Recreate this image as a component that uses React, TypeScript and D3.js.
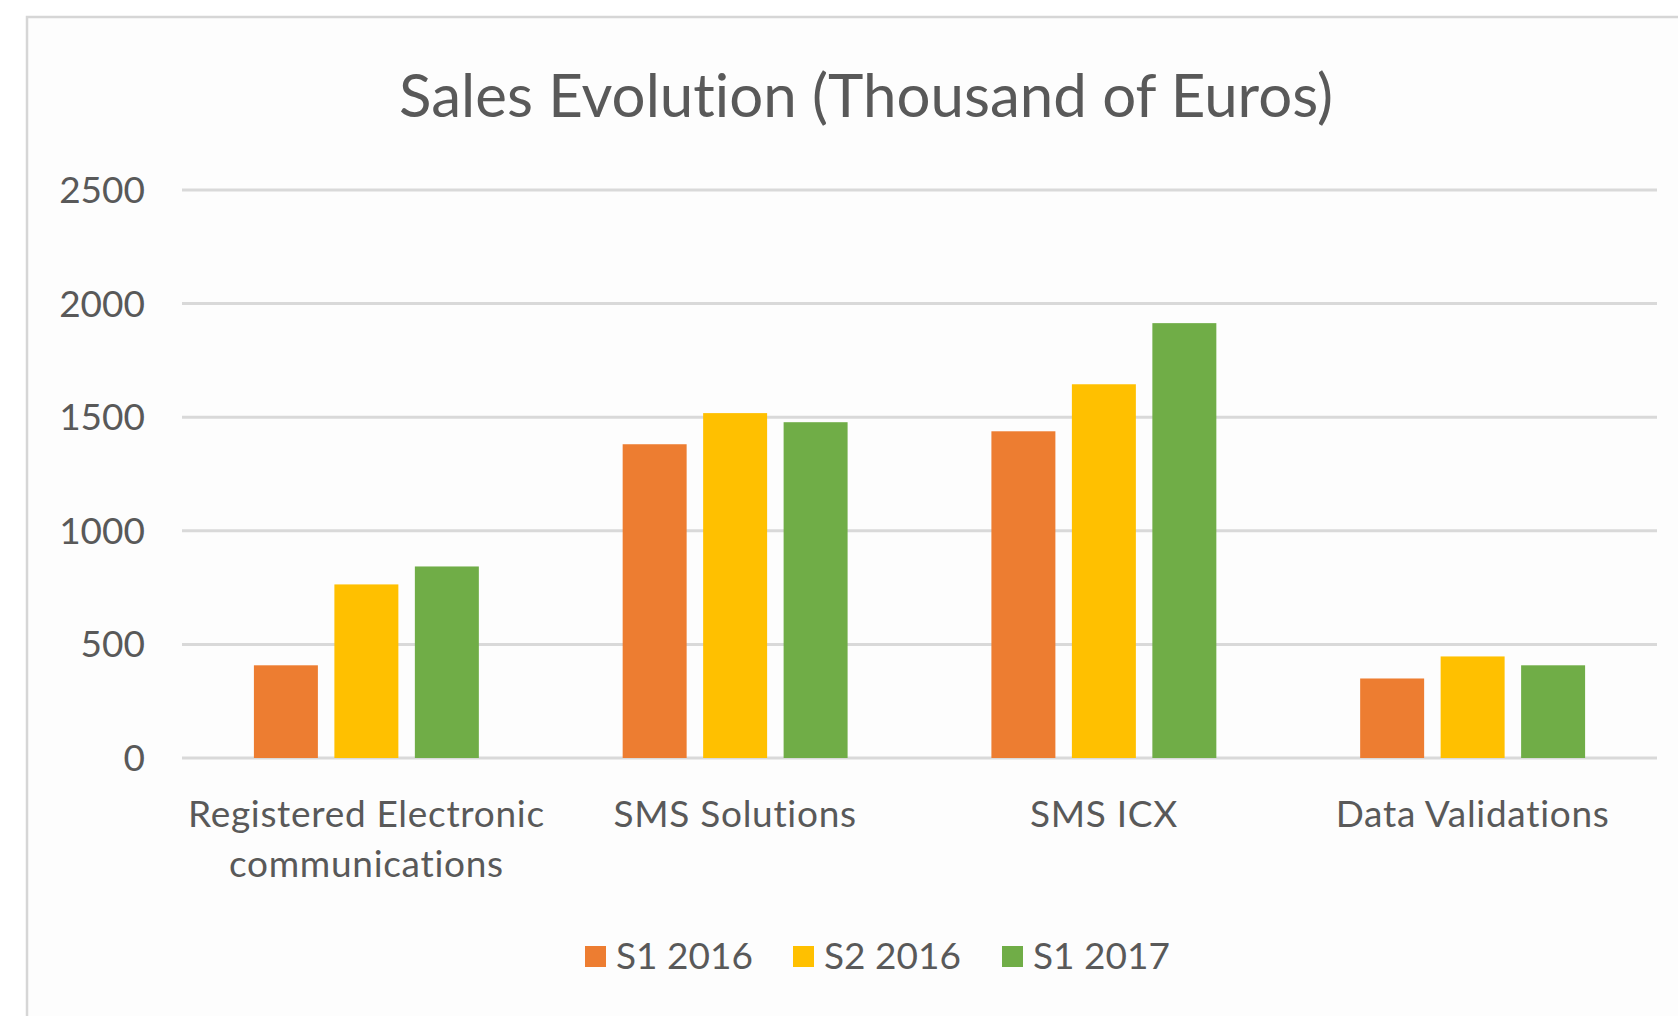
import React from 'react';
import * as d3 from 'd3';

// chart data
const categories = ['Registered Electronic communications', 'SMS Solutions', 'SMS ICX', 'Data Validations'];
const categoryLines = [['Registered Electronic', 'communications'], ['SMS Solutions'], ['SMS ICX'], ['Data Validations']];
const seriesNames = ['S1 2016', 'S2 2016', 'S1 2017'];
const s1_2016 = [408, 1381, 1438, 350];
const s2_2016 = [764, 1518, 1645, 447];
const s1_2017 = [843, 1478, 1914, 408];
const yTicks = [0, 500, 1000, 1500, 2000, 2500];
const title = 'Sales Evolution (Thousand of Euros)';

const seriesValues = [s1_2016, s2_2016, s1_2017];
const colors = ['#ED7D31', '#FFC000', '#70AD47'];

const W = 1678;
const H = 1016;
const FONT = 'Lato, "Open Sans", sans-serif';
const TEXT = '#595959';

export default function App()
{
    const plot = {left: 182, right: 1657, top: 190, bottom: 758};

    const x0 = d3.scaleBand<string>()
        .domain(categories)
        .range([plot.left, plot.right])
        .paddingInner(0.39)
        .paddingOuter(0.195);

    const x1 = d3.scaleBand<string>()
        .domain(seriesNames)
        .range([0, x0.bandwidth()])
        .paddingInner(0.205);

    const y = d3.scaleLinear()
        .domain([0, 2500])
        .range([plot.bottom, plot.top]);

    const gridlines = yTicks.map((t) => (
        <g key={t}>
            <line x1={plot.left} x2={plot.right} y1={y(t)} y2={y(t)} stroke="#d9d9d9" strokeWidth={3}/>
            <text x={145} y={y(t) + 13} textAnchor="end" fontSize={37} fill={TEXT}>{t}</text>
        </g>
    ));

    const bars = seriesValues.map((vals, i) => (
        <g key={seriesNames[i]} fill={colors[i]}>
            {vals.map((v, j) => (
                <rect key={j}
                      x={(x0(categories[j]) as number) + (x1(seriesNames[i]) as number)}
                      y={y(v)}
                      width={x1.bandwidth()}
                      height={y(0) - y(v)}/>
            ))}
        </g>
    ));

    const labels = categories.map((c, j) => {
        const cx = (x0(c) as number) + x0.bandwidth() / 2;
        return (
            <text key={c} x={cx} textAnchor="middle" fontSize={37} letterSpacing={0.7} fill={TEXT}>
                {categoryLines[j].map((ln, k) => (
                    <tspan key={k} x={cx} y={827 + k * 50}>{ln}</tspan>
                ))}
            </text>
        );
    });

    const legendX = [585, 793, 1002];
    const legend = seriesNames.map((s, i) => (
        <g key={s} transform={`translate(${legendX[i]},946)`}>
            <rect width={21} height={21} fill={colors[i]}/>
            <text x={31} y={23} fontSize={37} fill={TEXT}>{s}</text>
        </g>
    ));

    return (
        <svg width={W} height={H} style={{position: 'absolute', left: 0, top: 0, display: 'block',
                                          fontVariantLigatures: 'none', fontFeatureSettings: '"liga" 0, "clig" 0'}}
             fontFamily={FONT}>
            <rect width={W} height={H} fill="#ffffff"/>
            <rect x={27} y={17} width={W + 20} height={H + 20} fill="#fdfdfd" stroke="#d6d6d6" strokeWidth={2.5}/>
            <text x={866} y={117} textAnchor="middle" fontSize={60} fill={TEXT}>{title}</text>
            {gridlines}
            {bars}
            {labels}
            {legend}
        </svg>
    );
}
